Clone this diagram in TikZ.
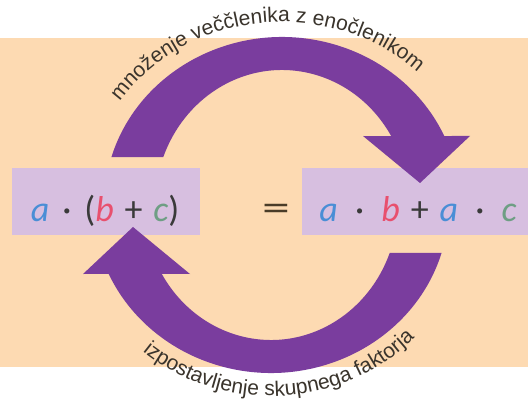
\documentclass[tikz,border=0pt]{standalone}
\usepackage{fontspec}
\usepackage{graphicx}
\setmainfont{Carlito}
\newfontfamily\labelfont{Liberation Sans}
\usetikzlibrary{decorations.text,calc}
\definecolor{peach}{HTML}{FDDAB2}
\definecolor{boxlav}{HTML}{D7BFE0}
\definecolor{arrowpurple}{HTML}{7A3D9E}
\definecolor{avar}{HTML}{4A8ED6}
\definecolor{bvar}{HTML}{E8506E}
\definecolor{cvar}{HTML}{6E9E84}
\definecolor{opcol}{HTML}{3A3A3A}
\definecolor{eqcol}{HTML}{4A3C28}
\definecolor{labelcol}{HTML}{3A342C}
\newcommand{\myA}{\textcolor{avar}{\textit{a}}}
\newcommand{\myB}{\textcolor{bvar}{\textit{b}}}
\newcommand{\myC}{\textcolor{cvar}{\textit{c}}}
\newcommand{\dotgap}{\hspace{0.48em}}
\newcommand{\ldotgap}{\hspace{0.36em}}
\newcommand{\plusgap}{\hspace{0.3em}}
\begin{document}
\begin{tikzpicture}[x=1pt,y=1pt,
  lavbox/.style={fill=boxlav, inner sep=0pt},
  exprtext/.style={text=opcol, font=\fontsize{36}{39}\selectfont, inner sep=0pt},
  bigarrow/.style={fill=arrowpurple},
  labeltext/.style={decorate, decoration={text along path, text align=center,
     text={|\labelfont\fontsize{21}{23}\selectfont\color{labelcol}|#1}}}
]
\useasboundingbox (0,0) rectangle (528,405);
\fill[white] (0,0) rectangle (528,405);
\fill[peach] (0,38) rectangle (528,367);

% boxes
\node[lavbox, minimum width=188pt, minimum height=67pt] (lhsbox) at (106,203.5) {};
\node[lavbox, minimum width=228pt, minimum height=67pt] (rhsbox) at (416,203.5) {};

% centres of the arcs
\coordinate (topc) at (282,200);
\coordinate (botc) at (271,200);

% top arrow
\fill[bigarrow] ($(topc)+(163.4:178pt and 168pt)$)
  arc[start angle=163.4, end angle=24.25, x radius=178pt, y radius=168pt]
  -- (470,269) -- (420,222) -- (363,269)
  -- ($(topc)+(30.7:127pt and 135pt)$)
  arc[start angle=30.7, end angle=159.2, x radius=127pt, y radius=135pt] -- cycle;

% bottom arrow
\fill[bigarrow] ($(botc)+(343.4:178pt and 168pt)$)
  arc[start angle=343.4, end angle=204.25, x radius=178pt, y radius=168pt]
  -- (83,131) -- (133,178) -- (190,131)
  -- ($(botc)+(210.7:127pt and 135pt)$)
  arc[start angle=210.7, end angle=339.2, x radius=127pt, y radius=135pt] -- cycle;

% expressions
\node[exprtext, anchor=base] (lhs) at (105,183)
  {\myA\ldotgap·\ldotgap(\myB\plusgap+\plusgap\myC)};
\node[exprtext, anchor=base, text=eqcol] (eq) at (276,185) {\scalebox{1.55}[1.05]{=}};
\node[exprtext, anchor=base] (rhs) at (418,183)
  {\myA\dotgap·\dotgap\myB\plusgap+\plusgap\myA\dotgap·\dotgap\myC};

% curved labels
\path[labeltext={množenje veččlenika z enočlenikom}]
  ($(topc)+(152:197pt and 183pt)$) arc[start angle=152, end angle=40, x radius=197pt, y radius=183pt];
\path[labeltext={izpostavljenje skupnega faktorja}]
  ($(botc)+(226:200pt and 191pt)$) arc[start angle=226, end angle=320, x radius=200pt, y radius=191pt];
\end{tikzpicture}
\end{document}
